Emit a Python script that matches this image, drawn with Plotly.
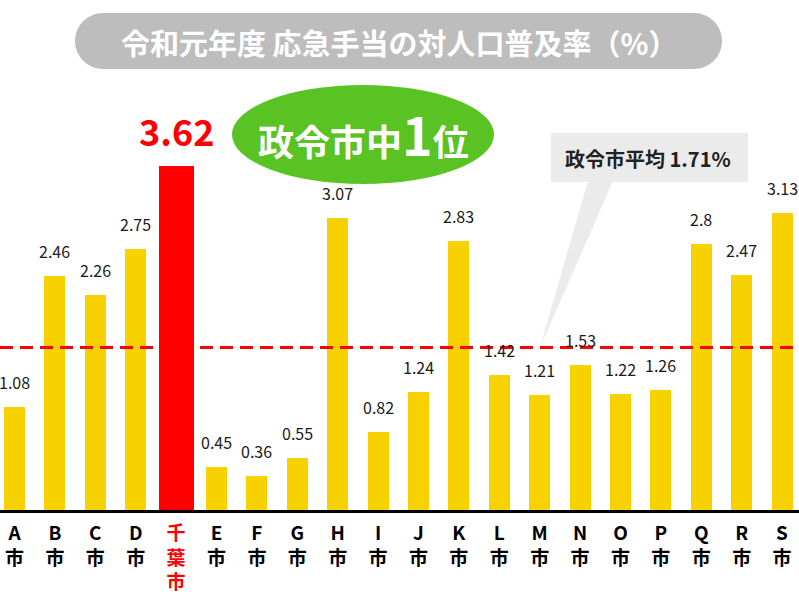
import plotly.graph_objects as go

# ---- data ----
categories = ["A市", "B市", "C市", "D市", "千葉市", "E市", "F市", "G市", "H市", "I市",
              "J市", "K市", "L市", "M市", "N市", "O市", "P市", "Q市", "R市", "S市"]
values = [1.08, 2.46, 2.26, 2.75, 3.62, 0.45, 0.36, 0.55, 3.07, 0.82,
          1.24, 2.83, 1.42, 1.21, 1.53, 1.22, 1.26, 2.8, 2.47, 3.13]
highlight = "千葉市"
average = 1.71
title_text = "令和元年度 応急手当の対人口普及率（%）"
badge_main = "政令市中"
badge_num = "1"
badge_tail = "位"
avg_label = "政令市平均 1.71%"

# ---- styling ----
W, H = 799, 600
PLOT_BOTTOM = 510
YMAX = 5.37
FONT = "Noto Sans CJK JP"
YELLOW = "#F7D200"
RED = "#FF0000"

def fx(x):
    return x / W

def fy(y):
    return (PLOT_BOTTOM - y) / PLOT_BOTTOM

is_hl = [c == highlight for c in categories]
colors = [RED if h else YELLOW for h in is_hl]
widths = [0.87 if h else 0.52 for h in is_hl]

ticktext = []
for c, h in zip(categories, is_hl):
    t = "<br>".join(list(c))
    if h:
        t = "<span style='color:#FF0000'>" + t + "</span>"
    ticktext.append("<b>" + t + "</b>")

fig = go.Figure()
fig.add_trace(go.Bar(
    x=categories, y=values, width=widths,
    marker=dict(color=colors, line=dict(width=0)),
    hoverinfo="skip",
))

annotations = []
for c, v, h in zip(categories, values, is_hl):
    if h:
        annotations.append(dict(
            x=c, y=v, xref="x", yref="y", text=f"<b>{v:g}</b>", showarrow=False,
            yanchor="bottom", yshift=8,
            font=dict(family=FONT, size=36, color=RED)))
    else:
        annotations.append(dict(
            x=c, y=v, xref="x", yref="y", text=f"{v:g}", showarrow=False,
            yanchor="bottom", yshift=11,
            font=dict(family=FONT, size=16, color="#1a1a1a")))

# title pill path
def pill(x0, x1, t, b):
    r = (b - t) / 2
    k = 0.5523 * r
    pts = [
        ("M", [(x0 + r, t)]),
        ("L", [(x1 - r, t)]),
        ("C", [(x1 - r + k, t), (x1, t + r - k), (x1, t + r)]),
        ("C", [(x1, b - r + k), (x1 - r + k, b), (x1 - r, b)]),
        ("L", [(x0 + r, b)]),
        ("C", [(x0 + r - k, b), (x0, b - r + k), (x0, b - r)]),
        ("C", [(x0, t + r - k), (x0 + r - k, t), (x0 + r, t)]),
    ]
    s = ""
    for cmd, ps in pts:
        s += cmd + " " + " ".join(f"{fx(px):.5f},{fy(py):.5f}" for px, py in ps) + " "
    return s + "Z"

tip_y = average / YMAX
shapes = [
    dict(type="path", xref="paper", yref="paper", path=pill(75, 722, 13, 69),
         fillcolor="#BDBDBD", line=dict(width=0), layer="above"),
    dict(type="circle", xref="paper", yref="paper",
         x0=fx(232), x1=fx(494), y0=fy(184), y1=fy(85),
         fillcolor="#58C322", line=dict(width=0)),
    dict(type="path", xref="paper", yref="paper",
         path=f"M {fx(588):.5f},{fy(181):.5f} L {fx(613):.5f},{fy(181):.5f} L {fx(540):.5f},{tip_y:.5f} Z",
         fillcolor="#EBEBEB", line=dict(width=0)),
    dict(type="rect", xref="paper", yref="paper",
         x0=fx(551), x1=fx(748), y0=fy(182), y1=fy(133),
         fillcolor="#EBEBEB", line=dict(width=0)),
    dict(type="line", xref="paper", yref="y", x0=0, x1=1, y0=average, y1=average,
         line=dict(color=RED, width=3, dash="13px,7px"), layer="above"),
]

annotations += [
    dict(x=fx(399), y=fy(42), xref="paper", yref="paper", showarrow=False,
         text=f"<b>{title_text}</b>", yanchor="middle", xanchor="center",
         font=dict(family=FONT, size=29, color="white")),
    dict(x=fx(363), y=fy(134), xref="paper", yref="paper", showarrow=False,
         text=f"<b>{badge_main}<span style='font-size:52px'>{badge_num}</span>{badge_tail}</b>",
         yanchor="middle", xanchor="center",
         font=dict(family=FONT, size=36, color="white")),
    dict(x=fx(648), y=fy(158), xref="paper", yref="paper", showarrow=False,
         text=f"<b>{avg_label}</b>", yanchor="middle", xanchor="center",
         font=dict(family=FONT, size=20, color="#222222")),
]

fig.update_layout(
    width=W, height=H,
    margin=dict(l=0, r=0, t=0, b=H - PLOT_BOTTOM, autoexpand=False),
    paper_bgcolor="white", plot_bgcolor="white",
    showlegend=False,
    bargap=0,
    font=dict(family=FONT),
    xaxis=dict(
        range=[-0.359, 19.42], tickmode="array", tickvals=categories, ticktext=ticktext,
        showline=True, linecolor="black", linewidth=3, ticks="", showgrid=False,
        tickfont=dict(family=FONT, size=19, color="black"), zeroline=False,
        ticklabelstandoff=4, automargin=False, fixedrange=True,
    ),
    yaxis=dict(range=[0, YMAX], visible=False, showgrid=False, zeroline=False,
               automargin=False, fixedrange=True),
    shapes=shapes,
    annotations=annotations,
)

fig.write_html("out.html", config={"displayModeBar": False, "staticPlot": True},
               post_script="document.body.style.margin='0';document.body.style.overflow='hidden';")
